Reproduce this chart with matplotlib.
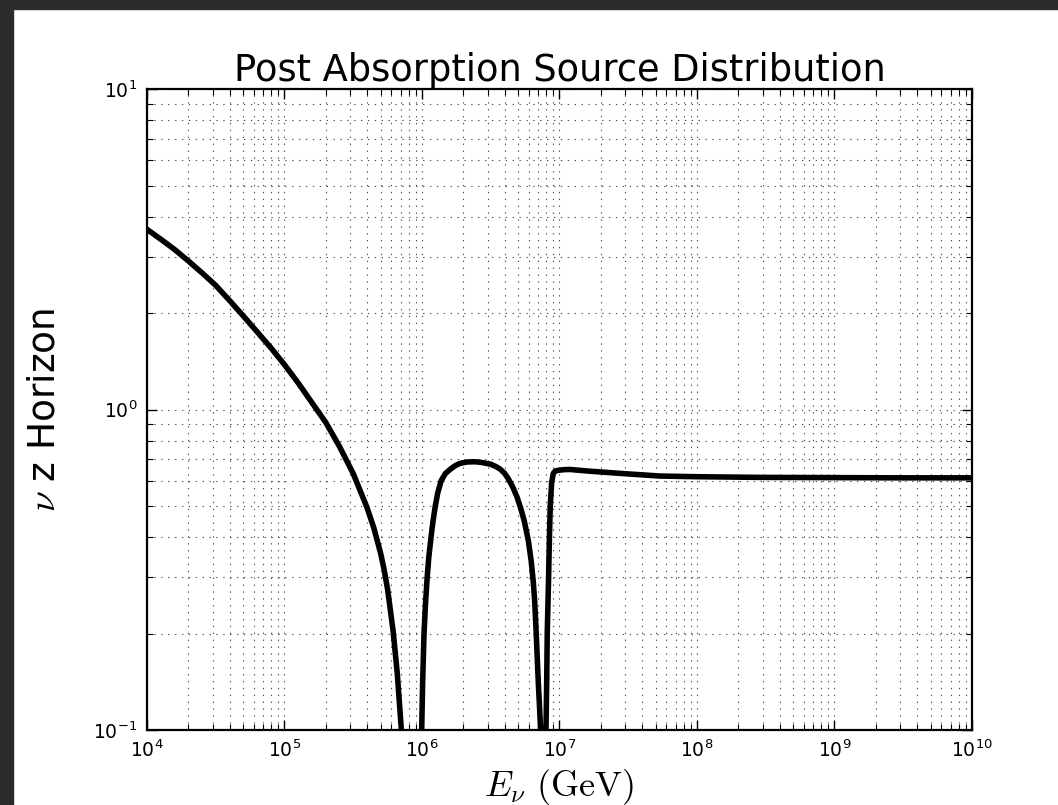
import matplotlib
matplotlib.use('Agg')
import matplotlib.pyplot as plt
from matplotlib.patches import Rectangle
import numpy as np

# curve: log10(E / GeV) and horizon value
log_energy = [
    # falling branch
    4.00, 4.10, 4.20, 4.30, 4.40, 4.50, 4.60, 4.70, 4.80, 4.90, 5.00,
    5.10, 5.20, 5.30, 5.40, 5.50, 5.60, 5.65, 5.70, 5.725, 5.75, 5.79,
    5.82, 5.84, 5.85, 5.86,
    # hump between the two dips
    5.99, 5.998, 6.005, 6.015, 6.025, 6.038, 6.05, 6.066, 6.08, 6.097,
    6.115, 6.14, 6.17, 6.204, 6.24, 6.276, 6.33, 6.385, 6.43, 6.50,
    6.54, 6.568, 6.60, 6.628, 6.66, 6.69, 6.718, 6.745, 6.774, 6.795,
    6.81, 6.82, 6.831, 6.84, 6.846, 6.855, 6.863, 6.87,
    # recovery and plateau
    6.895, 6.902, 6.907, 6.911, 6.921, 6.927, 6.933, 6.943, 6.955, 6.97,
    6.992, 7.03, 7.076, 7.20, 7.44, 7.73, 8.00, 8.46, 9.00, 9.50, 10.0,
]
horizon = [
    3.65, 3.40, 3.16, 2.91, 2.67, 2.44, 2.19, 1.96, 1.75, 1.56, 1.38,
    1.21, 1.05, 0.912, 0.767, 0.631, 0.495, 0.427, 0.355, 0.316, 0.275, 0.204,
    0.151, 0.115, 0.10, 0.08,
    0.08, 0.10, 0.141, 0.20, 0.245, 0.30, 0.347, 0.40, 0.447, 0.50,
    0.55, 0.60, 0.631, 0.65, 0.667, 0.679, 0.686, 0.687, 0.684, 0.675,
    0.663, 0.652, 0.633, 0.608, 0.573, 0.535, 0.492, 0.447, 0.389, 0.335,
    0.288, 0.251, 0.20, 0.162, 0.141, 0.118, 0.10, 0.08,
    0.08, 0.10, 0.141, 0.20, 0.30, 0.40, 0.50, 0.59, 0.632, 0.643,
    0.646, 0.649, 0.650, 0.643, 0.632, 0.620, 0.617, 0.614, 0.613, 0.612, 0.612,
]
title = 'Post Absorption Source Distribution'

energy = 10 ** np.array(log_energy)

plt.rcParams['mathtext.fontset'] = 'cm'
plt.rcParams['font.family'] = 'DejaVu Sans'
plt.rcParams['axes.unicode_minus'] = False

fig = plt.figure(figsize=(10.58, 8.05), dpi=100, facecolor='white')
# dark slide frame around the screenshot
fig.patches.append(Rectangle((0, 0), 13 / 1058, 1, transform=fig.transFigure,
                             color='#2b2b2d', zorder=0))
fig.patches.append(Rectangle((0, 1 - 9 / 805), 1, 9 / 805, transform=fig.transFigure,
                             color='#2b2b2d', zorder=0))

ax = fig.add_axes([0.1389, 0.0932, 0.7798, 0.7962])
ax.plot(energy, horizon, color='black', lw=4.0, solid_joinstyle='round')
ax.set_xscale('log')
ax.set_yscale('log')
ax.set_xlim(1e4, 1e10)
ax.set_ylim(0.1, 10)

ax.grid(True, which='both', color='0.3', linestyle=(0, (1.2, 5)), linewidth=0.8)
ax.tick_params(which='both', direction='in', top=True, right=True, labelsize=13.5)
ax.tick_params(which='major', length=7, width=1, pad=7)
ax.tick_params(which='minor', length=4, width=0.8)
for s in ax.spines.values():
    s.set_linewidth(1.6)

ax.set_title(title, fontsize=26.5, pad=4)
ax.set_xlabel(r'$E_\nu\ (\mathrm{GeV})$', fontsize=26, labelpad=4)
ax.set_ylabel(r'$\nu$ z Horizon', fontsize=27, labelpad=22)

fig.savefig('out.png', dpi=100, facecolor='white')
